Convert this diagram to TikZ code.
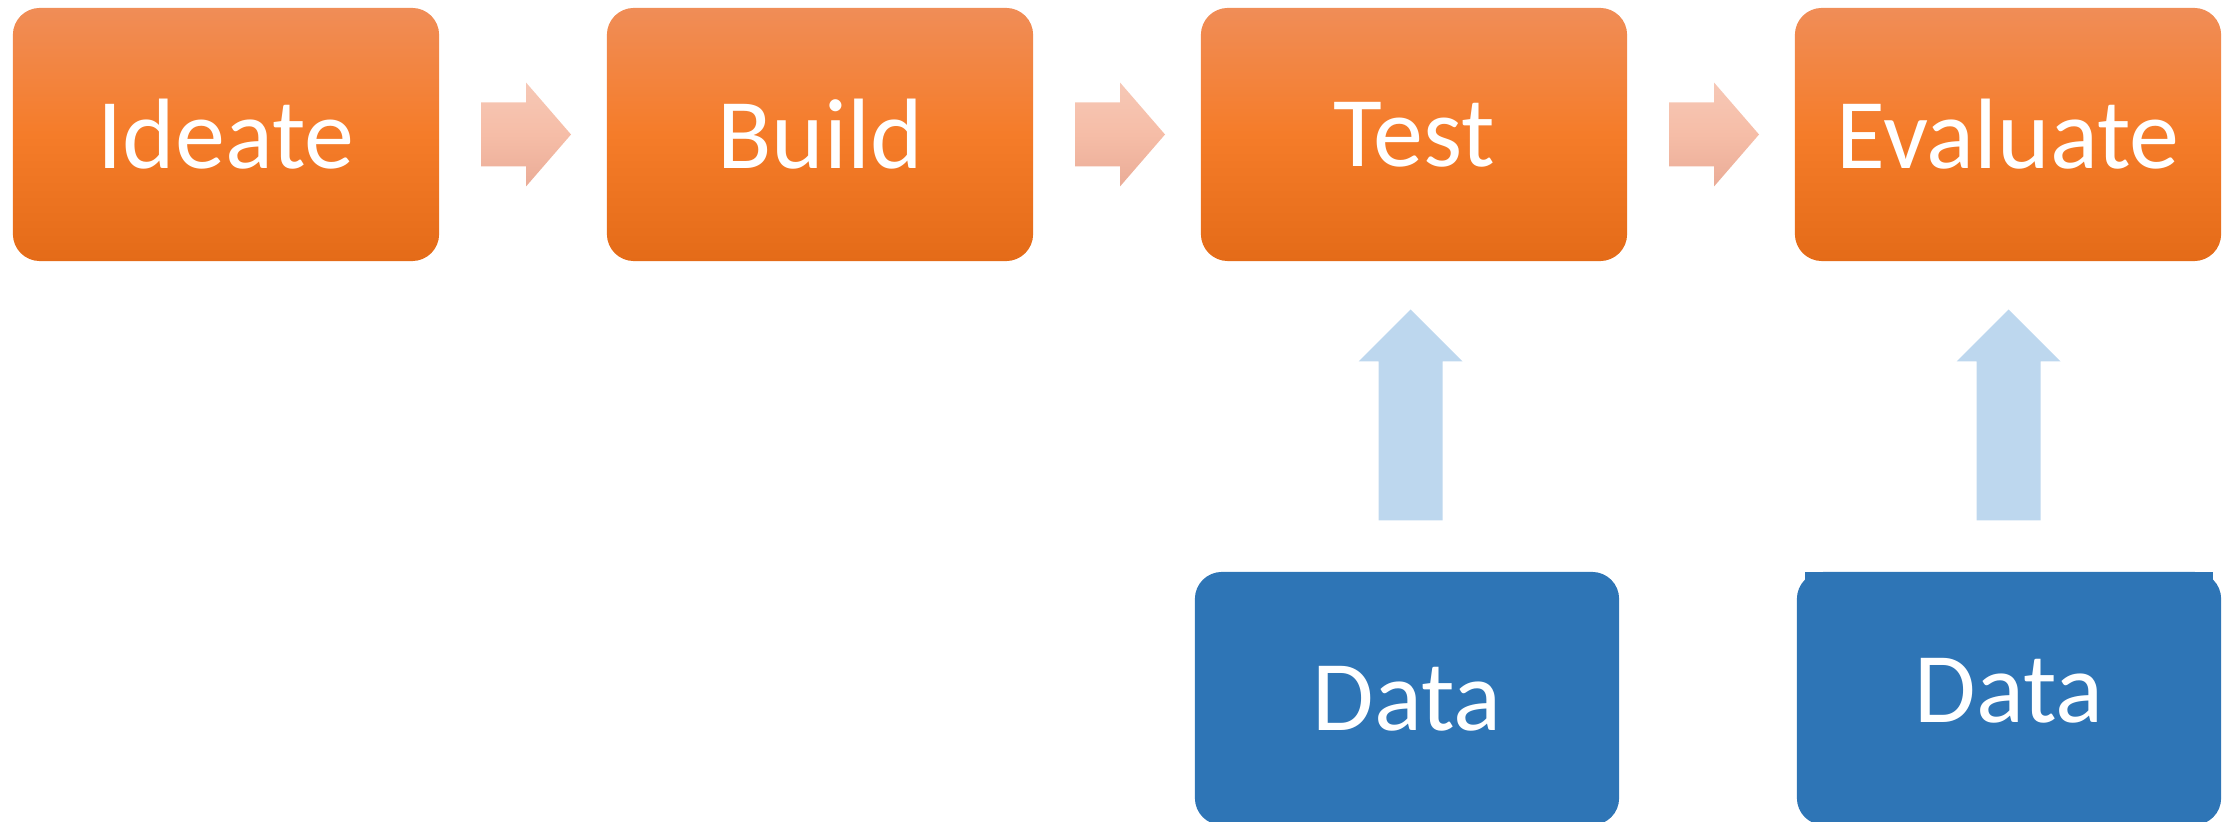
\documentclass[tikz,border=0pt]{standalone}
\usepackage{fontspec}
\setmainfont{Carlito}
\usetikzlibrary{calc}
\definecolor{otop}{RGB}{240,141,87}
\definecolor{omid}{RGB}{245,124,41}
\definecolor{obot}{RGB}{228,107,24}
\definecolor{atop}{RGB}{246,200,182}
\definecolor{amid}{RGB}{246,189,167}
\definecolor{abot}{RGB}{234,172,151}
\definecolor{varrowc}{RGB}{189,215,238}
\definecolor{datac}{RGB}{46,117,182}
\newcommand{\bigfont}{\fontsize{28.45}{34}\selectfont}
\tikzset{
  obox/.style={rectangle, rounded corners=0.27cm, minimum width=4.26cm, minimum height=2.53cm,
    inner sep=0pt, text=white, font=\bigfont, top color=otop, bottom color=obot, middle color=omid},
  dbox/.style={rectangle, rounded corners=0.27cm, minimum width=4.24cm, minimum height=2.53cm,
    inner sep=0pt, text=white, font=\bigfont, fill=datac},
  harrow/.pic={\path[top color=atop, bottom color=abot, middle color=amid]
    (-42,-32) -- (3,-32) -- (3,-52) -- (48,0) -- (3,52) -- (3,32) -- (-42,32) -- cycle;},
  varrow/.pic={\fill[varrowc]
    (-32,104) -- (-32,-55) -- (-52,-55) -- (0,-107) -- (52,-55) -- (32,-55) -- (32,104) -- cycle;}
}
\begin{document}
\begin{tikzpicture}[x=0.01cm, y=-0.01cm]
\useasboundingbox (0,0) rectangle (2236,822);
\clip (0,0) rectangle (2236,822);
\node[obox] (i) at (226,134.5) {Ideate};
\node[obox] (b) at (820,134.5) {Build};
\node[obox] (t) at (1414,134.5) {Test};
\node[obox] (e) at (2008,134.5) {Evaluate};
\node[dbox] (d1) at (1407,698.5) {Data};
\fill[datac] (1805,572) rectangle (2213,582);
\node[dbox, text depth=0.16cm] (d2) at (2009,698.5) {Data};
\pic at ($(i.east)!0.5!(b.west)$) {harrow};
\pic at ($(b.east)!0.5!(t.west)$) {harrow};
\pic at ($(t.east)!0.5!(e.west)$) {harrow};
\pic at ($(t.south)!0.5!(d1.north)$) {varrow};
\pic at ($(e.south)!0.5!(d2.north)$) {varrow};
\end{tikzpicture}
\end{document}
